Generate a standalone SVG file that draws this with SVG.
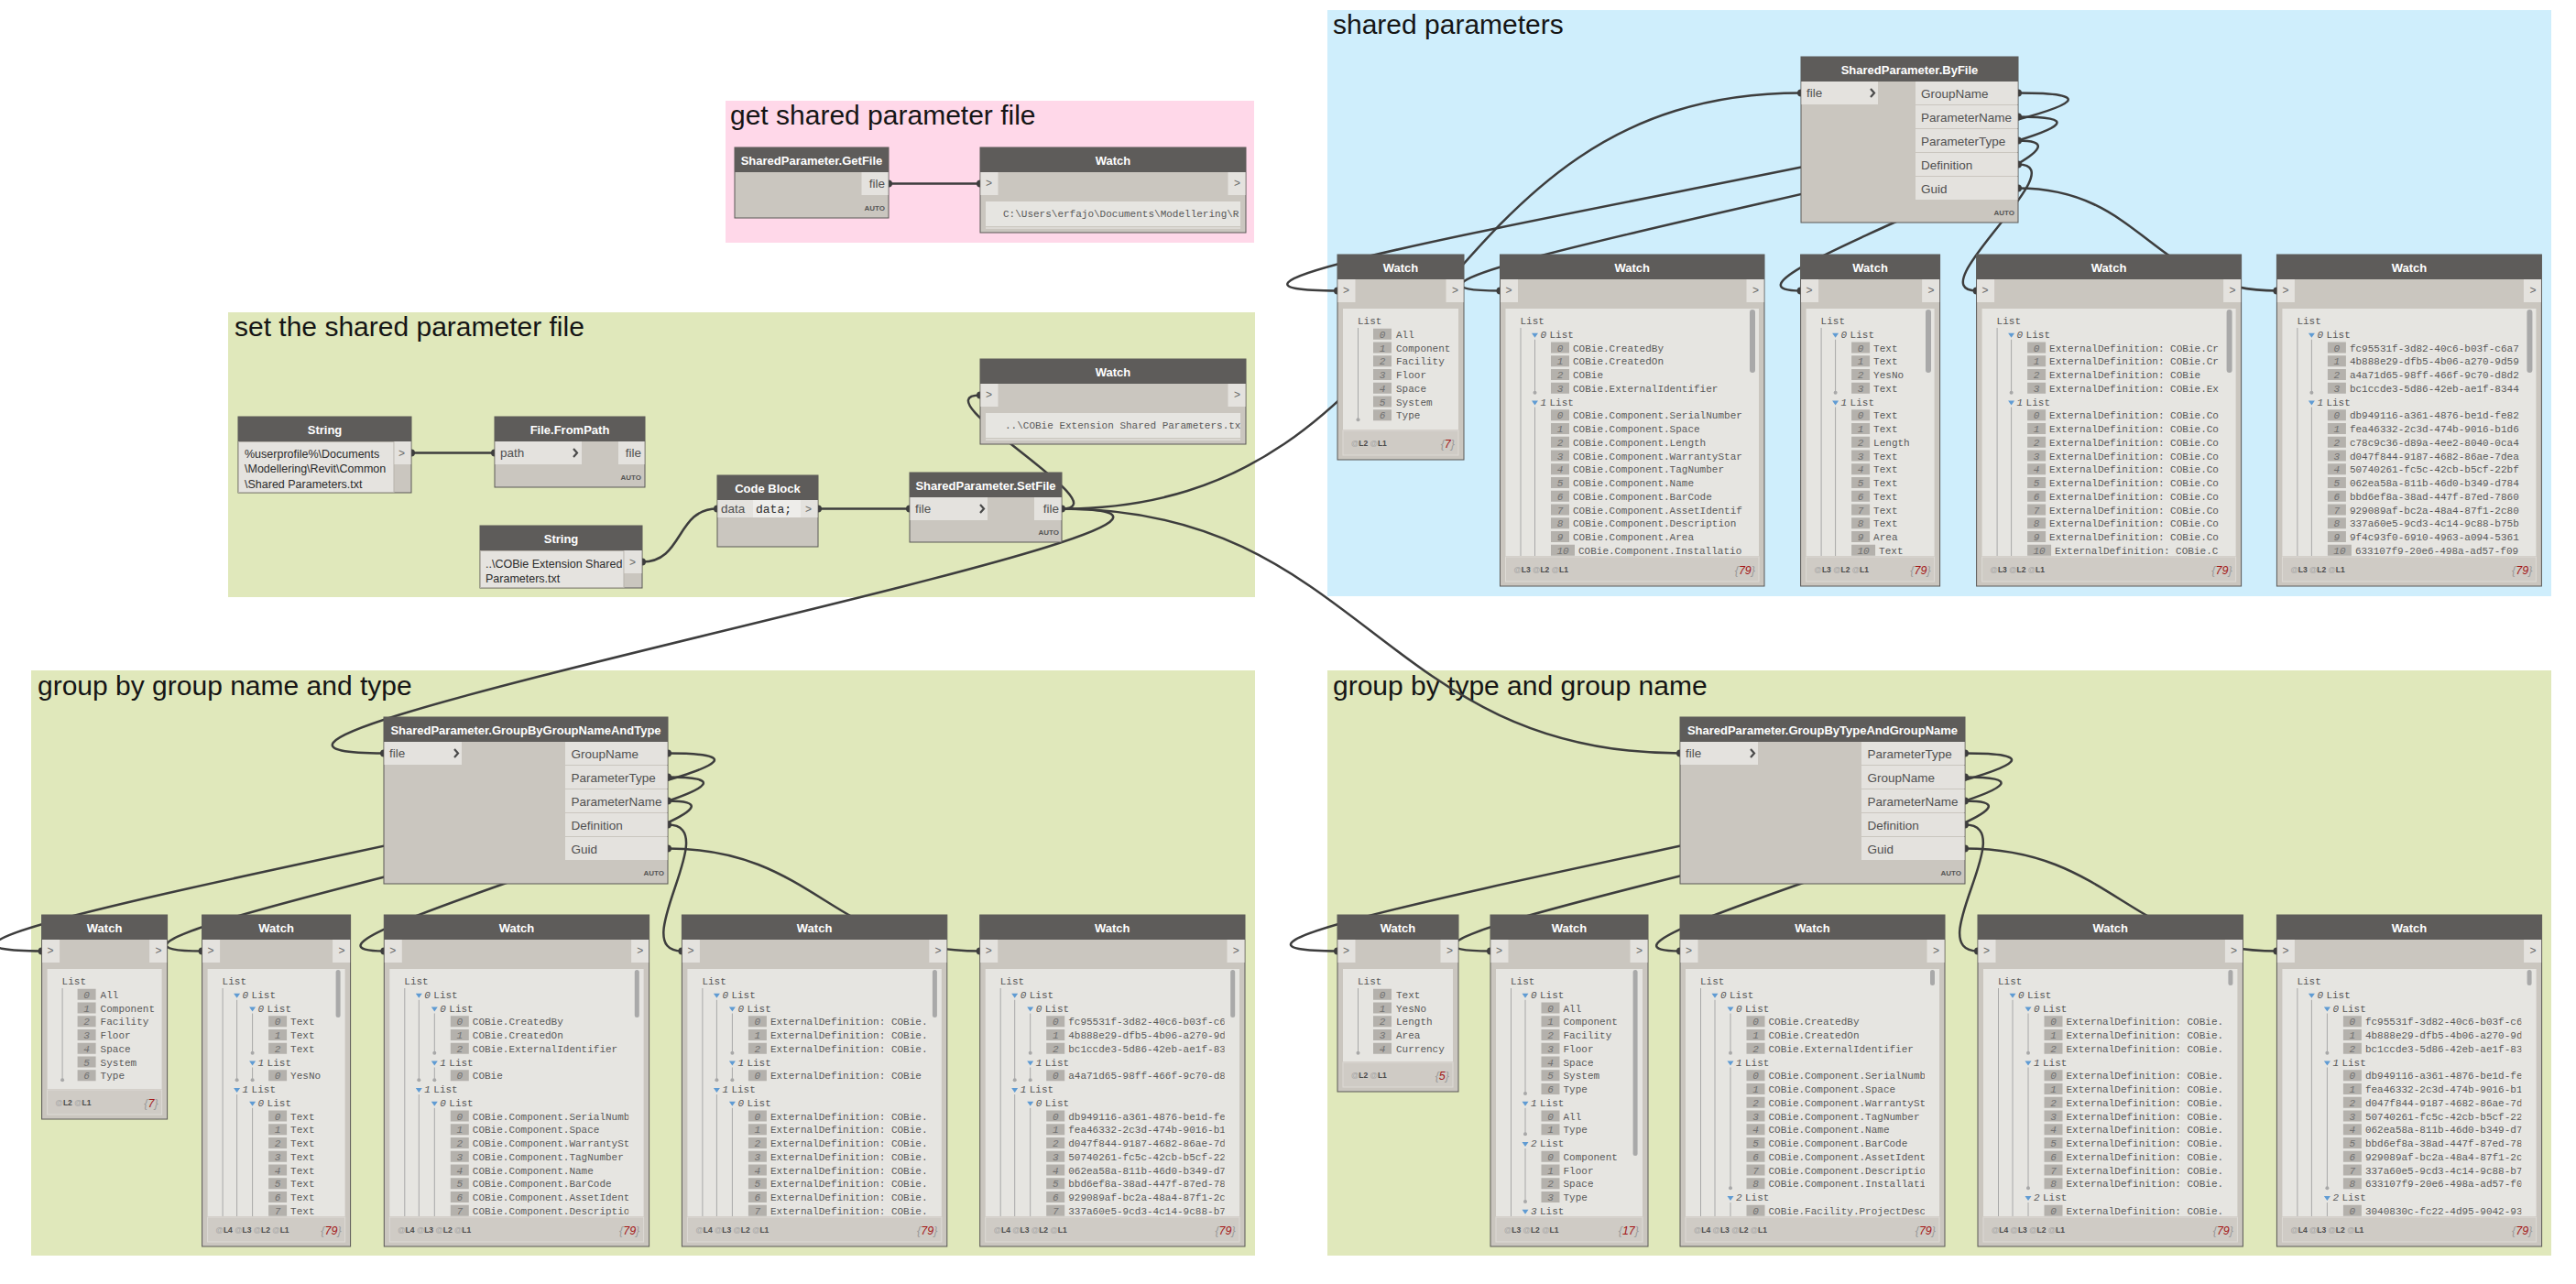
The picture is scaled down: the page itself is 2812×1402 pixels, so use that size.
<svg xmlns="http://www.w3.org/2000/svg" width="2812" height="1402" viewBox="0 0 2812 1402">
<defs>
<style>
.gt{font-family:"Liberation Sans",Arial,sans-serif;font-size:30px;fill:#151515}
.nb{fill:#CAC6BF;stroke:#5A5856;stroke-width:1}
.nh{fill:#5E5C5A}
.ht{font-family:"Liberation Sans",Arial,sans-serif;font-size:13px;font-weight:bold;fill:#FFFFFF;text-anchor:middle}
.pb{fill:#E4E2DE}
.pl{font-family:"Liberation Sans",Arial,sans-serif;font-size:13.5px;fill:#505050}
.pr{text-anchor:end}
.cv{fill:none;stroke:#4A4A4A;stroke-width:2.2}
.au{font-family:"Liberation Sans",Arial,sans-serif;font-size:8px;font-weight:bold;fill:#555555;text-anchor:end}
.pa{font-family:"Liberation Sans",Arial,sans-serif;font-size:12px;fill:#6A6A6A}
.wc{fill:#E6E5E1}
.m{font-family:"Liberation Mono","DejaVu Sans Mono",monospace;font-size:11px;fill:#585858}
.i{font-style:italic}
.ix{fill:#B4B1AC}
.it{font-family:"Liberation Mono","DejaVu Sans Mono",monospace;font-size:11px;font-style:italic;fill:#707070;text-anchor:middle}
.tl{fill:none;stroke:#A8A8A8;stroke-width:1}
.dt{fill:#A8A8A8}
.ar{fill:#5F9BD3}
.sb{fill:#A9A9A9}
.ft{fill:#CFCBC5;stroke:#DDDAD5;stroke-width:1}
.lv{font-family:"Liberation Sans",Arial,sans-serif;font-size:8.5px;font-weight:bold;fill:#4A4A4A}
.lv .a{fill:#A8A8A8}
.cn{font-family:"Liberation Sans",Arial,sans-serif;font-size:12.5px;font-style:italic;fill:#999999;text-anchor:end}
.cn .r{fill:#A31515}
.con{fill:none;stroke:#3D3D3D;stroke-width:2.5}
.cd{fill:#3D3D3D}
.st{font-family:"Liberation Sans",Arial,sans-serif;font-size:12.5px;fill:#2A2A2A}
.sa{fill:#E5E3DF;stroke:#B7B3AC;stroke-width:1}
.cb{font-family:"Liberation Mono","DejaVu Sans Mono",monospace;font-size:13px;fill:#2A2A2A}
.wl{fill:#DCD9D4}
</style>
<g id="sh-flat7"><path class="tl" d="M22.5,80V180.25"/><circle class="dt" cx="22.5" cy="180.25" r="2"/><path class="ix" d="M39,80.75h20v12h-20zM39,95.5h20v12h-20zM39,110.25h20v12h-20zM39,125h20v12h-20zM39,139.75h20v12h-20zM39,154.5h20v12h-20zM39,169.25h20v12h-20z"/></g>
<g id="sh-flat5"><path class="tl" d="M22.5,80V150.75"/><circle class="dt" cx="22.5" cy="150.75" r="2"/><path class="ix" d="M39,80.75h20v12h-20zM39,95.5h20v12h-20zM39,110.25h20v12h-20zM39,125h20v12h-20zM39,139.75h20v12h-20z"/></g>
<g id="sh-top"><path class="tl" d="M22.5,80V330M38,92.75V150.75M38,166.5V330"/><circle class="dt" cx="38" cy="150.75" r="2"/><path class="ar" d="M34.5,85.75h7l-3.5,5zM34.5,159.5h7l-3.5,5z"/><path class="ix" d="M55.5,95.5h20v12h-20zM55.5,110.25h20v12h-20zM55.5,125h20v12h-20zM55.5,139.75h20v12h-20zM55.5,169.25h20v12h-20zM55.5,184h20v12h-20zM55.5,198.75h20v12h-20zM55.5,213.5h20v12h-20zM55.5,228.25h20v12h-20zM55.5,243h20v12h-20zM55.5,257.75h20v12h-20zM55.5,272.5h20v12h-20zM55.5,287.25h20v12h-20zM55.5,302h20v12h-20zM55.5,316.75h26v12h-26z"/></g>
<g id="sh-d2a"><path class="tl" d="M22.5,80V330M38,92.75V180.25M55,107.5V150.75M55,166.5V180.25M38,196V330M55,210.75V330"/><circle class="dt" cx="38" cy="180.25" r="2"/><circle class="dt" cx="55" cy="150.75" r="2"/><circle class="dt" cx="55" cy="180.25" r="2"/><path class="ar" d="M34.5,85.75h7l-3.5,5zM34.5,189h7l-3.5,5zM51.5,100.5h7l-3.5,5zM51.5,159.5h7l-3.5,5zM51.5,203.75h7l-3.5,5z"/><path class="ix" d="M72.5,110.25h20v12h-20zM72.5,125h20v12h-20zM72.5,139.75h20v12h-20zM72.5,169.25h20v12h-20zM72.5,213.5h20v12h-20zM72.5,228.25h20v12h-20zM72.5,243h20v12h-20zM72.5,257.75h20v12h-20zM72.5,272.5h20v12h-20zM72.5,287.25h20v12h-20zM72.5,302h20v12h-20zM72.5,316.75h20v12h-20z"/></g>
<g id="sh-d2b"><path class="tl" d="M22.5,80V330M38,92.75V330M55,107.5V150.75M55,166.5V298.25M55,314V330"/><circle class="dt" cx="55" cy="150.75" r="2"/><circle class="dt" cx="55" cy="298.25" r="2"/><path class="ar" d="M34.5,85.75h7l-3.5,5zM51.5,100.5h7l-3.5,5zM51.5,159.5h7l-3.5,5zM51.5,307h7l-3.5,5z"/><path class="ix" d="M72.5,110.25h20v12h-20zM72.5,125h20v12h-20zM72.5,139.75h20v12h-20zM72.5,169.25h20v12h-20zM72.5,184h20v12h-20zM72.5,198.75h20v12h-20zM72.5,213.5h20v12h-20zM72.5,228.25h20v12h-20zM72.5,243h20v12h-20zM72.5,257.75h20v12h-20zM72.5,272.5h20v12h-20zM72.5,287.25h20v12h-20zM72.5,316.75h20v12h-20z"/></g>
</defs>

<rect width="2812" height="1402" fill="#FFFFFF"/>

<g id="groups">
<g id="group-get"><rect x="792" y="110" width="577" height="155" fill="#FFD8E9"/><text class="gt" x="797" y="136">get shared parameter file</text></g>
<g id="group-set"><rect x="249" y="341" width="1121" height="311" fill="#E0E8BB"/><text class="gt" x="256" y="367">set the shared parameter file</text></g>
<g id="group-shared"><rect x="1449" y="11" width="1336" height="640" fill="#CFEEFC"/><text class="gt" x="1455" y="37">shared parameters</text></g>
<g id="group-bygroupname"><rect x="34" y="732" width="1336" height="639" fill="#E0E8BB"/><text class="gt" x="41" y="759">group by group name and type</text></g>
<g id="group-bytype"><rect x="1449" y="732" width="1336" height="639" fill="#E0E8BB"/><text class="gt" x="1455" y="759">group by type and group name</text></g>
</g>

<g id="connectors">
<path class="con" d="M970,200.5H1070"/>
<path class="con" d="M449,494.5H540"/>
<path class="con" d="M701,613.5C746.6,613.5 737.4,555.5 783,555.5"/>
<path class="con" d="M893,555.5H993"/>
<path class="con" d="M1159,555.5C1227.5,555.5 1001.5,431.5 1070,431.5"/>
<path class="con" d="M1159,555.5C1575.4,555.5 1549.6,101.5 1966,101.5"/>
<path class="con" d="M1159,555.5C1513,555.5 65,822.5 419,822.5"/>
<path class="con" d="M1159,555.5C1485.7,555.5 1507.3,822.5 1834,822.5"/>
<path class="con" d="M2203,101.5C2551,101.5 1112,317.5 1460,317.5"/>
<path class="con" d="M2203,127.5C2471.3,127.5 1369.2,317.5 1637.5,317.5"/>
<path class="con" d="M2203,153.5C2332.7,153.5 1835.9,317.5 1965.6,317.5"/>
<path class="con" d="M2203,179.5C2268.3,179.5 2092.3,317.5 2157.6,317.5"/>
<path class="con" d="M2203,205.5C2339.8,205.5 2348.6,317.5 2485.4,317.5"/>
<path class="con" d="M729,822.5C1051.6,822.5 -277,1038.5 45.6,1038.5"/>
<path class="con" d="M729,848.5C973.3,848.5 -23.7,1038.5 220.6,1038.5"/>
<path class="con" d="M729,874.5C886.8,874.5 261.5,1038.5 419.3,1038.5"/>
<path class="con" d="M729,900.5C791.7,900.5 681.7,1038.5 744.4,1038.5"/>
<path class="con" d="M729,926.5C890.5,926.5 908.2,1038.5 1069.7,1038.5"/>
<path class="con" d="M2145,822.5C2468.3,822.5 1136.7,1038.5 1460,1038.5"/>
<path class="con" d="M2145,848.5C2393.4,848.5 1378.6,1038.5 1627,1038.5"/>
<path class="con" d="M2145,874.5C2303.3,874.5 1675.7,1038.5 1834,1038.5"/>
<path class="con" d="M2145,900.5C2207.6,900.5 2096.4,1038.5 2159,1038.5"/>
<path class="con" d="M2145,926.5C2306.3,926.5 2324.1,1038.5 2485.4,1038.5"/>
<g class="cd">
<circle cx="970" cy="200.5" r="4"/><circle cx="1070" cy="200.5" r="4"/>
<circle cx="449" cy="494.5" r="4"/><circle cx="540" cy="494.5" r="4"/>
<circle cx="701" cy="613.5" r="4"/><circle cx="783" cy="555.5" r="4"/>
<circle cx="893" cy="555.5" r="4"/><circle cx="993" cy="555.5" r="4"/>
<circle cx="1159" cy="555.5" r="4"/><circle cx="1070" cy="431.5" r="4"/>
<circle cx="1966" cy="101.5" r="4"/><circle cx="419" cy="822.5" r="4"/><circle cx="1834" cy="822.5" r="4"/>
<circle cx="2203" cy="101.5" r="4"/><circle cx="2203" cy="127.5" r="4"/><circle cx="2203" cy="153.5" r="4"/><circle cx="2203" cy="179.5" r="4"/><circle cx="2203" cy="205.5" r="4"/>
<circle cx="1460" cy="317.5" r="4"/><circle cx="1637.5" cy="317.5" r="4"/><circle cx="1965.6" cy="317.5" r="4"/><circle cx="2157.6" cy="317.5" r="4"/><circle cx="2485.4" cy="317.5" r="4"/>
<circle cx="729" cy="822.5" r="4"/><circle cx="729" cy="848.5" r="4"/><circle cx="729" cy="874.5" r="4"/><circle cx="729" cy="900.5" r="4"/><circle cx="729" cy="926.5" r="4"/>
<circle cx="45.6" cy="1038.5" r="4"/><circle cx="220.6" cy="1038.5" r="4"/><circle cx="419.3" cy="1038.5" r="4"/><circle cx="744.4" cy="1038.5" r="4"/><circle cx="1069.7" cy="1038.5" r="4"/>
<circle cx="2145" cy="822.5" r="4"/><circle cx="2145" cy="848.5" r="4"/><circle cx="2145" cy="874.5" r="4"/><circle cx="2145" cy="900.5" r="4"/><circle cx="2145" cy="926.5" r="4"/>
<circle cx="1460" cy="1038.5" r="4"/><circle cx="1627" cy="1038.5" r="4"/><circle cx="1834" cy="1038.5" r="4"/><circle cx="2159" cy="1038.5" r="4"/><circle cx="2485.4" cy="1038.5" r="4"/>
</g>
</g>

<g id="nodes">

<g id="n-getfile" transform="translate(802,161)">
<rect class="nb" width="168" height="77"/><rect class="nh" width="168" height="27"/>
<text class="ht" x="84" y="18.5">SharedParameter.GetFile</text>
<rect class="pb" x="138.5" y="27" width="29" height="25"/>
<text class="pl pr" x="164" y="44">file</text>
<text class="au" x="164" y="69">AUTO</text>
</g>

<g id="n-watch-getfile" transform="translate(1070,161)">
<rect class="nb" width="290" height="93"/><rect class="nh" width="290" height="27"/>
<text class="ht" x="145" y="18.5">Watch</text>
<rect class="pb" x="0.5" y="27" width="19" height="25"/><rect class="pb" x="270.5" y="27" width="19" height="25"/>
<text class="pa" x="6" y="43">&gt;</text><text class="pa" x="277" y="43">&gt;</text>
<rect class="wc" x="6" y="59" width="278" height="27"/><rect class="wl" x="6" y="87" width="278" height="2"/>
<svg x="6" y="59" width="278" height="27" viewBox="6 59 278 27"><text class="m" x="25" y="76">C:\Users\erfajo\Documents\Modellering\R</text></svg>
</g>

<g id="n-string-userprofile" transform="translate(260,455)">
<rect class="nb" width="189" height="83"/><rect class="nh" width="189" height="27"/>
<text class="ht" x="94.5" y="18.5">String</text>
<rect class="sa" x="0.5" y="27.5" width="169.5" height="55"/>
<rect class="pb" x="170.5" y="27" width="18" height="25"/>
<text class="pa" x="175" y="44">&gt;</text>
<text class="st" x="7" y="44.5">%userprofile%\Documents</text>
<text class="st" x="7" y="61">\Modellering\Revit\Common</text>
<text class="st" x="7" y="77.5">\Shared Parameters.txt</text>
</g>

<g id="n-file-frompath" transform="translate(540,455)">
<rect class="nb" width="164" height="77"/><rect class="nh" width="164" height="27"/>
<text class="ht" x="82" y="18.5">File.FromPath</text>
<rect class="pb" x="0.5" y="27" width="94.5" height="25"/>
<text class="pl" x="6" y="44">path</text>
<path class="cv" d="M86,35l4,4.5l-4,4.5"/>
<rect class="pb" x="135" y="27" width="28.5" height="25"/>
<text class="pl pr" x="160" y="44">file</text>
<text class="au" x="160" y="69">AUTO</text>
</g>

<g id="n-string-relative" transform="translate(524,574)">
<rect class="nb" width="177" height="68"/><rect class="nh" width="177" height="27"/>
<text class="ht" x="88.5" y="18.5">String</text>
<rect class="sa" x="0.5" y="27.5" width="156.5" height="40"/>
<rect class="pb" x="157.5" y="27" width="19" height="25"/>
<text class="pa" x="163" y="44">&gt;</text>
<text class="st" x="6" y="46">..\COBie Extension Shared</text>
<text class="st" x="6" y="62">Parameters.txt</text>
</g>

<g id="n-codeblock" transform="translate(783,519)">
<rect class="nb" width="110" height="78"/><rect class="nh" width="110" height="27"/>
<text class="ht" x="55" y="18.5">Code Block</text>
<rect class="pb" x="0.5" y="27" width="38.5" height="19"/>
<text class="pl" x="4" y="41">data</text>
<rect fill="#EEEDEA" x="39" y="27" width="52" height="19"/>
<text class="cb" x="42" y="41">data;</text>
<rect class="pb" x="91" y="27" width="18.5" height="19"/>
<text class="pa" x="96" y="41">&gt;</text>
</g>

<g id="n-setfile" transform="translate(993,516)">
<rect class="nb" width="166" height="76"/><rect class="nh" width="166" height="27"/>
<text class="ht" x="83" y="18.5">SharedParameter.SetFile</text>
<rect class="pb" x="0.5" y="27" width="84.5" height="25"/>
<text class="pl" x="6" y="44">file</text>
<path class="cv" d="M77,35l4,4.5l-4,4.5"/>
<rect class="pb" x="136" y="27" width="29.5" height="25"/>
<text class="pl pr" x="163" y="44">file</text>
<text class="au" x="163" y="68">AUTO</text>
</g>

<g id="n-watch-setfile" transform="translate(1070,392)">
<rect class="nb" width="290" height="93"/><rect class="nh" width="290" height="27"/>
<text class="ht" x="145" y="18.5">Watch</text>
<rect class="pb" x="0.5" y="27" width="19" height="25"/><rect class="pb" x="270.5" y="27" width="19" height="25"/>
<text class="pa" x="6" y="43">&gt;</text><text class="pa" x="277" y="43">&gt;</text>
<rect class="wc" x="6" y="59" width="278" height="27"/><rect class="wl" x="6" y="87" width="278" height="2"/>
<svg x="6" y="59" width="278" height="27" viewBox="6 59 278 27"><text class="m" x="27" y="76">..\COBie Extension Shared Parameters.tx</text></svg>
</g>

<g id="n-byfile" transform="translate(1966,62)">
<rect class="nb" width="237" height="181"/><rect class="nh" width="237" height="27"/>
<text class="ht" x="118.5" y="18.5">SharedParameter.ByFile</text>
<rect class="pb" x="0.5" y="27" width="83.5" height="25"/>
<text class="pl" x="6" y="44">file</text>
<path class="cv" d="M76,35l4,4.5l-4,4.5"/>
<path class="pb" d="M125,27h111.5v25h-111.5zM125,53h111.5v25h-111.5zM125,79h111.5v25h-111.5zM125,105h111.5v25h-111.5zM125,131h111.5v25h-111.5z"/>
<text class="pl" x="131" y="44.5">GroupName</text>
<text class="pl" x="131" y="70.5">ParameterName</text>
<text class="pl" x="131" y="96.5">ParameterType</text>
<text class="pl" x="131" y="122.5">Definition</text>
<text class="pl" x="131" y="148.5">Guid</text>
<text class="au" x="233" y="173">AUTO</text>
</g>

<g id="n-watch-groupname" transform="translate(1460,278)">
<rect class="nb" width="138" height="224"/><rect class="nh" width="138" height="27"/>
<text class="ht" x="69" y="18.5">Watch</text>
<rect class="pb" x="0.5" y="27" width="19" height="25"/><rect class="pb" x="118.5" y="27" width="19" height="25"/>
<text class="pa" x="6" y="43">&gt;</text><text class="pa" x="125" y="43">&gt;</text>
<rect class="wc" x="6" y="59" width="126" height="132"/>
<svg x="6" y="59" width="126" height="132" viewBox="6 59 126 132">
<use href="#sh-flat7"/>
<text class="m" x="22" y="76">List</text>
<text class="it"><tspan x="49" y="90.75">0</tspan><tspan x="49" y="105.5">1</tspan><tspan x="49" y="120.25">2</tspan><tspan x="49" y="135">3</tspan><tspan x="49" y="149.75">4</tspan><tspan x="49" y="164.5">5</tspan><tspan x="49" y="179.25">6</tspan></text>
<text class="m"><tspan x="64" y="90.75">All</tspan><tspan x="64" y="105.5">Component</tspan><tspan x="64" y="120.25">Facility</tspan><tspan x="64" y="135">Floor</tspan><tspan x="64" y="149.75">Space</tspan><tspan x="64" y="164.5">System</tspan><tspan x="64" y="179.25">Type</tspan></text>
</svg>
<rect class="ft" x="6" y="192" width="126" height="27"/>
<text class="lv" x="15" y="209"><tspan class="a">@</tspan>L2 <tspan class="a">@</tspan>L1</text>
<text class="cn" x="128" y="211">{<tspan class="r">7</tspan>}</text>
</g>

<g id="n-watch-parametername" transform="translate(1637.5,278)">
<rect class="nb" width="288.5" height="362"/><rect class="nh" width="288.5" height="27"/>
<text class="ht" x="144.25" y="18.5">Watch</text>
<rect class="pb" x="0.5" y="27" width="19" height="25"/><rect class="pb" x="269" y="27" width="19" height="25"/>
<text class="pa" x="6" y="43">&gt;</text><text class="pa" x="275.5" y="43">&gt;</text>
<rect class="wc" x="6" y="59" width="276.5" height="270"/>
<svg x="6" y="59" width="259.5" height="270" viewBox="6 59 259.5 270">
<use href="#sh-top"/>
<text class="m" x="22" y="76">List</text>
<text class="m" y="90.75"><tspan class="i" x="44">0</tspan><tspan x="54">List</tspan></text>
<text class="m" y="164.5"><tspan class="i" x="44">1</tspan><tspan x="54">List</tspan></text>
<text class="it"><tspan x="65.5" y="105.5">0</tspan><tspan x="65.5" y="120.25">1</tspan><tspan x="65.5" y="135">2</tspan><tspan x="65.5" y="149.75">3</tspan><tspan x="65.5" y="179.25">0</tspan><tspan x="65.5" y="194">1</tspan><tspan x="65.5" y="208.75">2</tspan><tspan x="65.5" y="223.5">3</tspan><tspan x="65.5" y="238.25">4</tspan><tspan x="65.5" y="253">5</tspan><tspan x="65.5" y="267.75">6</tspan><tspan x="65.5" y="282.5">7</tspan><tspan x="65.5" y="297.25">8</tspan><tspan x="65.5" y="312">9</tspan><tspan x="68.5" y="326.75">10</tspan></text>
<text class="m"><tspan x="79.5" y="105.5">COBie.CreatedBy</tspan><tspan x="79.5" y="120.25">COBie.CreatedOn</tspan><tspan x="79.5" y="135">COBie</tspan><tspan x="79.5" y="149.75">COBie.ExternalIdentifier</tspan><tspan x="79.5" y="179.25">COBie.Component.SerialNumber</tspan><tspan x="79.5" y="194">COBie.Component.Space</tspan><tspan x="79.5" y="208.75">COBie.Component.Length</tspan><tspan x="79.5" y="223.5">COBie.Component.WarrantyStar</tspan><tspan x="79.5" y="238.25">COBie.Component.TagNumber</tspan><tspan x="79.5" y="253">COBie.Component.Name</tspan><tspan x="79.5" y="267.75">COBie.Component.BarCode</tspan><tspan x="79.5" y="282.5">COBie.Component.AssetIdentif</tspan><tspan x="79.5" y="297.25">COBie.Component.Description</tspan><tspan x="79.5" y="312">COBie.Component.Area</tspan><tspan x="85.5" y="326.75">COBie.Component.Installatio</tspan></text>
</svg>
<rect class="sb" x="272.5" y="60" width="6" height="69" rx="3"/>
<rect class="ft" x="6" y="330" width="276.5" height="27"/>
<text class="lv" x="15" y="347"><tspan class="a">@</tspan>L3 <tspan class="a">@</tspan>L2 <tspan class="a">@</tspan>L1</text>
<text class="cn" x="278.5" y="349">{<tspan class="r">79</tspan>}</text>
</g>

<g id="n-watch-parametertype" transform="translate(1965.6,278)">
<rect class="nb" width="152" height="362"/><rect class="nh" width="152" height="27"/>
<text class="ht" x="76" y="18.5">Watch</text>
<rect class="pb" x="0.5" y="27" width="19" height="25"/><rect class="pb" x="132.5" y="27" width="19" height="25"/>
<text class="pa" x="6" y="43">&gt;</text><text class="pa" x="139" y="43">&gt;</text>
<rect class="wc" x="6" y="59" width="140" height="270"/>
<svg x="6" y="59" width="125" height="270" viewBox="6 59 125 270">
<use href="#sh-top"/>
<text class="m" x="22" y="76">List</text>
<text class="m" y="90.75"><tspan class="i" x="44">0</tspan><tspan x="54">List</tspan></text>
<text class="m" y="164.5"><tspan class="i" x="44">1</tspan><tspan x="54">List</tspan></text>
<text class="it"><tspan x="65.5" y="105.5">0</tspan><tspan x="65.5" y="120.25">1</tspan><tspan x="65.5" y="135">2</tspan><tspan x="65.5" y="149.75">3</tspan><tspan x="65.5" y="179.25">0</tspan><tspan x="65.5" y="194">1</tspan><tspan x="65.5" y="208.75">2</tspan><tspan x="65.5" y="223.5">3</tspan><tspan x="65.5" y="238.25">4</tspan><tspan x="65.5" y="253">5</tspan><tspan x="65.5" y="267.75">6</tspan><tspan x="65.5" y="282.5">7</tspan><tspan x="65.5" y="297.25">8</tspan><tspan x="65.5" y="312">9</tspan><tspan x="68.5" y="326.75">10</tspan></text>
<text class="m"><tspan x="79.5" y="105.5">Text</tspan><tspan x="79.5" y="120.25">Text</tspan><tspan x="79.5" y="135">YesNo</tspan><tspan x="79.5" y="149.75">Text</tspan><tspan x="79.5" y="179.25">Text</tspan><tspan x="79.5" y="194">Text</tspan><tspan x="79.5" y="208.75">Length</tspan><tspan x="79.5" y="223.5">Text</tspan><tspan x="79.5" y="238.25">Text</tspan><tspan x="79.5" y="253">Text</tspan><tspan x="79.5" y="267.75">Text</tspan><tspan x="79.5" y="282.5">Text</tspan><tspan x="79.5" y="297.25">Text</tspan><tspan x="79.5" y="312">Area</tspan><tspan x="85.5" y="326.75">Text</tspan></text>
</svg>
<rect class="sb" x="136.4" y="60" width="6" height="69" rx="3"/>
<rect class="ft" x="6" y="330" width="140" height="27"/>
<text class="lv" x="15" y="347"><tspan class="a">@</tspan>L3 <tspan class="a">@</tspan>L2 <tspan class="a">@</tspan>L1</text>
<text class="cn" x="142" y="349">{<tspan class="r">79</tspan>}</text>
</g>

<g id="n-watch-definition" transform="translate(2157.6,278)">
<rect class="nb" width="289" height="362"/><rect class="nh" width="289" height="27"/>
<text class="ht" x="144.5" y="18.5">Watch</text>
<rect class="pb" x="0.5" y="27" width="19" height="25"/><rect class="pb" x="269.5" y="27" width="19" height="25"/>
<text class="pa" x="6" y="43">&gt;</text><text class="pa" x="276" y="43">&gt;</text>
<rect class="wc" x="6" y="59" width="277" height="270"/>
<svg x="6" y="59" width="260" height="270" viewBox="6 59 260 270">
<use href="#sh-top"/>
<text class="m" x="22" y="76">List</text>
<text class="m" y="90.75"><tspan class="i" x="44">0</tspan><tspan x="54">List</tspan></text>
<text class="m" y="164.5"><tspan class="i" x="44">1</tspan><tspan x="54">List</tspan></text>
<text class="it"><tspan x="65.5" y="105.5">0</tspan><tspan x="65.5" y="120.25">1</tspan><tspan x="65.5" y="135">2</tspan><tspan x="65.5" y="149.75">3</tspan><tspan x="65.5" y="179.25">0</tspan><tspan x="65.5" y="194">1</tspan><tspan x="65.5" y="208.75">2</tspan><tspan x="65.5" y="223.5">3</tspan><tspan x="65.5" y="238.25">4</tspan><tspan x="65.5" y="253">5</tspan><tspan x="65.5" y="267.75">6</tspan><tspan x="65.5" y="282.5">7</tspan><tspan x="65.5" y="297.25">8</tspan><tspan x="65.5" y="312">9</tspan><tspan x="68.5" y="326.75">10</tspan></text>
<text class="m"><tspan x="79.5" y="105.5">ExternalDefinition: COBie.Cr</tspan><tspan x="79.5" y="120.25">ExternalDefinition: COBie.Cr</tspan><tspan x="79.5" y="135">ExternalDefinition: COBie</tspan><tspan x="79.5" y="149.75">ExternalDefinition: COBie.Ex</tspan><tspan x="79.5" y="179.25">ExternalDefinition: COBie.Co</tspan><tspan x="79.5" y="194">ExternalDefinition: COBie.Co</tspan><tspan x="79.5" y="208.75">ExternalDefinition: COBie.Co</tspan><tspan x="79.5" y="223.5">ExternalDefinition: COBie.Co</tspan><tspan x="79.5" y="238.25">ExternalDefinition: COBie.Co</tspan><tspan x="79.5" y="253">ExternalDefinition: COBie.Co</tspan><tspan x="79.5" y="267.75">ExternalDefinition: COBie.Co</tspan><tspan x="79.5" y="282.5">ExternalDefinition: COBie.Co</tspan><tspan x="79.5" y="297.25">ExternalDefinition: COBie.Co</tspan><tspan x="79.5" y="312">ExternalDefinition: COBie.Co</tspan><tspan x="85.5" y="326.75">ExternalDefinition: COBie.C</tspan></text>
</svg>
<rect class="sb" x="273" y="60" width="6" height="69" rx="3"/>
<rect class="ft" x="6" y="330" width="277" height="27"/>
<text class="lv" x="15" y="347"><tspan class="a">@</tspan>L3 <tspan class="a">@</tspan>L2 <tspan class="a">@</tspan>L1</text>
<text class="cn" x="279" y="349">{<tspan class="r">79</tspan>}</text>
</g>

<g id="n-watch-guid" transform="translate(2485.4,278)">
<rect class="nb" width="289" height="362"/><rect class="nh" width="289" height="27"/>
<text class="ht" x="144.5" y="18.5">Watch</text>
<rect class="pb" x="0.5" y="27" width="19" height="25"/><rect class="pb" x="269.5" y="27" width="19" height="25"/>
<text class="pa" x="6" y="43">&gt;</text><text class="pa" x="276" y="43">&gt;</text>
<rect class="wc" x="6" y="59" width="277" height="270"/>
<svg x="6" y="59" width="260" height="270" viewBox="6 59 260 270">
<use href="#sh-top"/>
<text class="m" x="22" y="76">List</text>
<text class="m" y="90.75"><tspan class="i" x="44">0</tspan><tspan x="54">List</tspan></text>
<text class="m" y="164.5"><tspan class="i" x="44">1</tspan><tspan x="54">List</tspan></text>
<text class="it"><tspan x="65.5" y="105.5">0</tspan><tspan x="65.5" y="120.25">1</tspan><tspan x="65.5" y="135">2</tspan><tspan x="65.5" y="149.75">3</tspan><tspan x="65.5" y="179.25">0</tspan><tspan x="65.5" y="194">1</tspan><tspan x="65.5" y="208.75">2</tspan><tspan x="65.5" y="223.5">3</tspan><tspan x="65.5" y="238.25">4</tspan><tspan x="65.5" y="253">5</tspan><tspan x="65.5" y="267.75">6</tspan><tspan x="65.5" y="282.5">7</tspan><tspan x="65.5" y="297.25">8</tspan><tspan x="65.5" y="312">9</tspan><tspan x="68.5" y="326.75">10</tspan></text>
<text class="m"><tspan x="79.5" y="105.5">fc95531f-3d82-40c6-b03f-c6a7</tspan><tspan x="79.5" y="120.25">4b888e29-dfb5-4b06-a270-9d59</tspan><tspan x="79.5" y="135">a4a71d65-98ff-466f-9c70-d8d2</tspan><tspan x="79.5" y="149.75">bc1ccde3-5d86-42eb-ae1f-8344</tspan><tspan x="79.5" y="179.25">db949116-a361-4876-be1d-fe82</tspan><tspan x="79.5" y="194">fea46332-2c3d-474b-9016-b1d6</tspan><tspan x="79.5" y="208.75">c78c9c36-d89a-4ee2-8040-0ca4</tspan><tspan x="79.5" y="223.5">d047f844-9187-4682-86ae-7dea</tspan><tspan x="79.5" y="238.25">50740261-fc5c-42cb-b5cf-22bf</tspan><tspan x="79.5" y="253">062ea58a-811b-46d0-b349-d784</tspan><tspan x="79.5" y="267.75">bbd6ef8a-38ad-447f-87ed-7860</tspan><tspan x="79.5" y="282.5">929089af-bc2a-48a4-87f1-2c80</tspan><tspan x="79.5" y="297.25">337a60e5-9cd3-4c14-9c88-b75b</tspan><tspan x="79.5" y="312">9f4c93f0-6910-4963-a094-5361</tspan><tspan x="85.5" y="326.75">633107f9-20e6-498a-ad57-f09</tspan></text>
</svg>
<rect class="sb" x="273" y="60" width="6" height="69" rx="3"/>
<rect class="ft" x="6" y="330" width="277" height="27"/>
<text class="lv" x="15" y="347"><tspan class="a">@</tspan>L3 <tspan class="a">@</tspan>L2 <tspan class="a">@</tspan>L1</text>
<text class="cn" x="279" y="349">{<tspan class="r">79</tspan>}</text>
</g>

<g id="n-groupbygroupnameandtype" transform="translate(419,783)">
<rect class="nb" width="310" height="182"/><rect class="nh" width="310" height="27"/>
<text class="ht" x="155" y="18.5">SharedParameter.GroupByGroupNameAndType</text>
<rect class="pb" x="0.5" y="27" width="84.5" height="25"/>
<text class="pl" x="6" y="44">file</text>
<path class="cv" d="M77,35l4,4.5l-4,4.5"/>
<path class="pb" d="M198,27h111.5v25h-111.5zM198,53h111.5v25h-111.5zM198,79h111.5v25h-111.5zM198,105h111.5v25h-111.5zM198,131h111.5v25h-111.5z"/>
<text class="pl" x="204.5" y="44.5">GroupName</text>
<text class="pl" x="204.5" y="70.5">ParameterType</text>
<text class="pl" x="204.5" y="96.5">ParameterName</text>
<text class="pl" x="204.5" y="122.5">Definition</text>
<text class="pl" x="204.5" y="148.5">Guid</text>
<text class="au" x="306" y="173">AUTO</text>
</g>

<g id="n-watch-bg-groupname" transform="translate(45.6,999)">
<rect class="nb" width="137" height="223"/><rect class="nh" width="137" height="27"/>
<text class="ht" x="68.5" y="18.5">Watch</text>
<rect class="pb" x="0.5" y="27" width="19" height="25"/><rect class="pb" x="117.5" y="27" width="19" height="25"/>
<text class="pa" x="6" y="43">&gt;</text><text class="pa" x="124" y="43">&gt;</text>
<rect class="wc" x="6" y="59" width="125" height="131"/>
<svg x="6" y="59" width="125" height="131" viewBox="6 59 125 131">
<use href="#sh-flat7"/>
<text class="m" x="22" y="76">List</text>
<text class="it"><tspan x="49" y="90.75">0</tspan><tspan x="49" y="105.5">1</tspan><tspan x="49" y="120.25">2</tspan><tspan x="49" y="135">3</tspan><tspan x="49" y="149.75">4</tspan><tspan x="49" y="164.5">5</tspan><tspan x="49" y="179.25">6</tspan></text>
<text class="m"><tspan x="64" y="90.75">All</tspan><tspan x="64" y="105.5">Component</tspan><tspan x="64" y="120.25">Facility</tspan><tspan x="64" y="135">Floor</tspan><tspan x="64" y="149.75">Space</tspan><tspan x="64" y="164.5">System</tspan><tspan x="64" y="179.25">Type</tspan></text>
</svg>
<rect class="ft" x="6" y="191" width="125" height="27"/>
<text class="lv" x="15" y="208"><tspan class="a">@</tspan>L2 <tspan class="a">@</tspan>L1</text>
<text class="cn" x="127" y="210">{<tspan class="r">7</tspan>}</text>
</g>

<g id="n-watch-bg-parametertype" transform="translate(220.6,999)">
<rect class="nb" width="162" height="362"/><rect class="nh" width="162" height="27"/>
<text class="ht" x="81" y="18.5">Watch</text>
<rect class="pb" x="0.5" y="27" width="19" height="25"/><rect class="pb" x="142.5" y="27" width="19" height="25"/>
<text class="pa" x="6" y="43">&gt;</text><text class="pa" x="149" y="43">&gt;</text>
<rect class="wc" x="6" y="59" width="150" height="270"/>
<svg x="6" y="59" width="135" height="270" viewBox="6 59 135 270">
<use href="#sh-d2a"/>
<text class="m" x="22" y="76">List</text>
<text class="m" y="90.75"><tspan class="i" x="44">0</tspan><tspan x="54">List</tspan></text>
<text class="m" y="105.5"><tspan class="i" x="61">0</tspan><tspan x="71">List</tspan></text>
<text class="m" y="164.5"><tspan class="i" x="61">1</tspan><tspan x="71">List</tspan></text>
<text class="m" y="194"><tspan class="i" x="44">1</tspan><tspan x="54">List</tspan></text>
<text class="m" y="208.75"><tspan class="i" x="61">0</tspan><tspan x="71">List</tspan></text>
<text class="it"><tspan x="82.5" y="120.25">0</tspan><tspan x="82.5" y="135">1</tspan><tspan x="82.5" y="149.75">2</tspan><tspan x="82.5" y="179.25">0</tspan><tspan x="82.5" y="223.5">0</tspan><tspan x="82.5" y="238.25">1</tspan><tspan x="82.5" y="253">2</tspan><tspan x="82.5" y="267.75">3</tspan><tspan x="82.5" y="282.5">4</tspan><tspan x="82.5" y="297.25">5</tspan><tspan x="82.5" y="312">6</tspan><tspan x="82.5" y="326.75">7</tspan></text>
<text class="m"><tspan x="96.5" y="120.25">Text</tspan><tspan x="96.5" y="135">Text</tspan><tspan x="96.5" y="149.75">Text</tspan><tspan x="96.5" y="179.25">YesNo</tspan><tspan x="96.5" y="223.5">Text</tspan><tspan x="96.5" y="238.25">Text</tspan><tspan x="96.5" y="253">Text</tspan><tspan x="96.5" y="267.75">Text</tspan><tspan x="96.5" y="282.5">Text</tspan><tspan x="96.5" y="297.25">Text</tspan><tspan x="96.5" y="312">Text</tspan><tspan x="96.5" y="326.75">Text</tspan></text>
</svg>
<rect class="sb" x="146" y="60" width="5" height="52" rx="2.5"/>
<rect class="ft" x="6" y="330" width="150" height="27"/>
<text class="lv" x="15" y="347"><tspan class="a">@</tspan>L4 <tspan class="a">@</tspan>L3 <tspan class="a">@</tspan>L2 <tspan class="a">@</tspan>L1</text>
<text class="cn" x="152" y="349">{<tspan class="r">79</tspan>}</text>
</g>

<g id="n-watch-bg-parametername" transform="translate(419.3,999)">
<rect class="nb" width="289.3" height="362"/><rect class="nh" width="289.3" height="27"/>
<text class="ht" x="144.6" y="18.5">Watch</text>
<rect class="pb" x="0.5" y="27" width="19" height="25"/><rect class="pb" x="269.8" y="27" width="19" height="25"/>
<text class="pa" x="6" y="43">&gt;</text><text class="pa" x="276" y="43">&gt;</text>
<rect class="wc" x="6" y="59" width="277.3" height="270"/>
<svg x="6" y="59" width="261" height="270" viewBox="6 59 261 270">
<use href="#sh-d2a"/>
<text class="m" x="22" y="76">List</text>
<text class="m" y="90.75"><tspan class="i" x="44">0</tspan><tspan x="54">List</tspan></text>
<text class="m" y="105.5"><tspan class="i" x="61">0</tspan><tspan x="71">List</tspan></text>
<text class="m" y="164.5"><tspan class="i" x="61">1</tspan><tspan x="71">List</tspan></text>
<text class="m" y="194"><tspan class="i" x="44">1</tspan><tspan x="54">List</tspan></text>
<text class="m" y="208.75"><tspan class="i" x="61">0</tspan><tspan x="71">List</tspan></text>
<text class="it"><tspan x="82.5" y="120.25">0</tspan><tspan x="82.5" y="135">1</tspan><tspan x="82.5" y="149.75">2</tspan><tspan x="82.5" y="179.25">0</tspan><tspan x="82.5" y="223.5">0</tspan><tspan x="82.5" y="238.25">1</tspan><tspan x="82.5" y="253">2</tspan><tspan x="82.5" y="267.75">3</tspan><tspan x="82.5" y="282.5">4</tspan><tspan x="82.5" y="297.25">5</tspan><tspan x="82.5" y="312">6</tspan><tspan x="82.5" y="326.75">7</tspan></text>
<text class="m"><tspan x="96.5" y="120.25">COBie.CreatedBy</tspan><tspan x="96.5" y="135">COBie.CreatedOn</tspan><tspan x="96.5" y="149.75">COBie.ExternalIdentifier</tspan><tspan x="96.5" y="179.25">COBie</tspan><tspan x="96.5" y="223.5">COBie.Component.SerialNumb</tspan><tspan x="96.5" y="238.25">COBie.Component.Space</tspan><tspan x="96.5" y="253">COBie.Component.WarrantySt</tspan><tspan x="96.5" y="267.75">COBie.Component.TagNumber</tspan><tspan x="96.5" y="282.5">COBie.Component.Name</tspan><tspan x="96.5" y="297.25">COBie.Component.BarCode</tspan><tspan x="96.5" y="312">COBie.Component.AssetIdent</tspan><tspan x="96.5" y="326.75">COBie.Component.Descriptio</tspan></text>
</svg>
<rect class="sb" x="273.5" y="60" width="5" height="52" rx="2.5"/>
<rect class="ft" x="6" y="330" width="277.3" height="27"/>
<text class="lv" x="15" y="347"><tspan class="a">@</tspan>L4 <tspan class="a">@</tspan>L3 <tspan class="a">@</tspan>L2 <tspan class="a">@</tspan>L1</text>
<text class="cn" x="279" y="349">{<tspan class="r">79</tspan>}</text>
</g>

<g id="n-watch-bg-definition" transform="translate(744.4,999)">
<rect class="nb" width="289.4" height="362"/><rect class="nh" width="289.4" height="27"/>
<text class="ht" x="144.7" y="18.5">Watch</text>
<rect class="pb" x="0.5" y="27" width="19" height="25"/><rect class="pb" x="269.9" y="27" width="19" height="25"/>
<text class="pa" x="6" y="43">&gt;</text><text class="pa" x="276" y="43">&gt;</text>
<rect class="wc" x="6" y="59" width="277.4" height="270"/>
<svg x="6" y="59" width="262" height="270" viewBox="6 59 262 270">
<use href="#sh-d2a"/>
<text class="m" x="22" y="76">List</text>
<text class="m" y="90.75"><tspan class="i" x="44">0</tspan><tspan x="54">List</tspan></text>
<text class="m" y="105.5"><tspan class="i" x="61">0</tspan><tspan x="71">List</tspan></text>
<text class="m" y="164.5"><tspan class="i" x="61">1</tspan><tspan x="71">List</tspan></text>
<text class="m" y="194"><tspan class="i" x="44">1</tspan><tspan x="54">List</tspan></text>
<text class="m" y="208.75"><tspan class="i" x="61">0</tspan><tspan x="71">List</tspan></text>
<text class="it"><tspan x="82.5" y="120.25">0</tspan><tspan x="82.5" y="135">1</tspan><tspan x="82.5" y="149.75">2</tspan><tspan x="82.5" y="179.25">0</tspan><tspan x="82.5" y="223.5">0</tspan><tspan x="82.5" y="238.25">1</tspan><tspan x="82.5" y="253">2</tspan><tspan x="82.5" y="267.75">3</tspan><tspan x="82.5" y="282.5">4</tspan><tspan x="82.5" y="297.25">5</tspan><tspan x="82.5" y="312">6</tspan><tspan x="82.5" y="326.75">7</tspan></text>
<text class="m"><tspan x="96.5" y="120.25">ExternalDefinition: COBie.</tspan><tspan x="96.5" y="135">ExternalDefinition: COBie.</tspan><tspan x="96.5" y="149.75">ExternalDefinition: COBie.</tspan><tspan x="96.5" y="179.25">ExternalDefinition: COBie</tspan><tspan x="96.5" y="223.5">ExternalDefinition: COBie.</tspan><tspan x="96.5" y="238.25">ExternalDefinition: COBie.</tspan><tspan x="96.5" y="253">ExternalDefinition: COBie.</tspan><tspan x="96.5" y="267.75">ExternalDefinition: COBie.</tspan><tspan x="96.5" y="282.5">ExternalDefinition: COBie.</tspan><tspan x="96.5" y="297.25">ExternalDefinition: COBie.</tspan><tspan x="96.5" y="312">ExternalDefinition: COBie.</tspan><tspan x="96.5" y="326.75">ExternalDefinition: COBie.</tspan></text>
</svg>
<rect class="sb" x="273.5" y="60" width="5" height="52" rx="2.5"/>
<rect class="ft" x="6" y="330" width="277.4" height="27"/>
<text class="lv" x="15" y="347"><tspan class="a">@</tspan>L4 <tspan class="a">@</tspan>L3 <tspan class="a">@</tspan>L2 <tspan class="a">@</tspan>L1</text>
<text class="cn" x="279" y="349">{<tspan class="r">79</tspan>}</text>
</g>

<g id="n-watch-bg-guid" transform="translate(1069.7,999)">
<rect class="nb" width="289.3" height="362"/><rect class="nh" width="289.3" height="27"/>
<text class="ht" x="144.6" y="18.5">Watch</text>
<rect class="pb" x="0.5" y="27" width="19" height="25"/><rect class="pb" x="269.8" y="27" width="19" height="25"/>
<text class="pa" x="6" y="43">&gt;</text><text class="pa" x="276" y="43">&gt;</text>
<rect class="wc" x="6" y="59" width="277.3" height="270"/>
<svg x="6" y="59" width="261" height="270" viewBox="6 59 261 270">
<use href="#sh-d2a"/>
<text class="m" x="22" y="76">List</text>
<text class="m" y="90.75"><tspan class="i" x="44">0</tspan><tspan x="54">List</tspan></text>
<text class="m" y="105.5"><tspan class="i" x="61">0</tspan><tspan x="71">List</tspan></text>
<text class="m" y="164.5"><tspan class="i" x="61">1</tspan><tspan x="71">List</tspan></text>
<text class="m" y="194"><tspan class="i" x="44">1</tspan><tspan x="54">List</tspan></text>
<text class="m" y="208.75"><tspan class="i" x="61">0</tspan><tspan x="71">List</tspan></text>
<text class="it"><tspan x="82.5" y="120.25">0</tspan><tspan x="82.5" y="135">1</tspan><tspan x="82.5" y="149.75">2</tspan><tspan x="82.5" y="179.25">0</tspan><tspan x="82.5" y="223.5">0</tspan><tspan x="82.5" y="238.25">1</tspan><tspan x="82.5" y="253">2</tspan><tspan x="82.5" y="267.75">3</tspan><tspan x="82.5" y="282.5">4</tspan><tspan x="82.5" y="297.25">5</tspan><tspan x="82.5" y="312">6</tspan><tspan x="82.5" y="326.75">7</tspan></text>
<text class="m"><tspan x="96.5" y="120.25">fc95531f-3d82-40c6-b03f-c6</tspan><tspan x="96.5" y="135">4b888e29-dfb5-4b06-a270-9d</tspan><tspan x="96.5" y="149.75">bc1ccde3-5d86-42eb-ae1f-83</tspan><tspan x="96.5" y="179.25">a4a71d65-98ff-466f-9c70-d8</tspan><tspan x="96.5" y="223.5">db949116-a361-4876-be1d-fe</tspan><tspan x="96.5" y="238.25">fea46332-2c3d-474b-9016-b1</tspan><tspan x="96.5" y="253">d047f844-9187-4682-86ae-7d</tspan><tspan x="96.5" y="267.75">50740261-fc5c-42cb-b5cf-22</tspan><tspan x="96.5" y="282.5">062ea58a-811b-46d0-b349-d7</tspan><tspan x="96.5" y="297.25">bbd6ef8a-38ad-447f-87ed-78</tspan><tspan x="96.5" y="312">929089af-bc2a-48a4-87f1-2c</tspan><tspan x="96.5" y="326.75">337a60e5-9cd3-4c14-9c88-b7</tspan></text>
</svg>
<rect class="sb" x="273.5" y="60" width="5" height="52" rx="2.5"/>
<rect class="ft" x="6" y="330" width="277.3" height="27"/>
<text class="lv" x="15" y="347"><tspan class="a">@</tspan>L4 <tspan class="a">@</tspan>L3 <tspan class="a">@</tspan>L2 <tspan class="a">@</tspan>L1</text>
<text class="cn" x="279" y="349">{<tspan class="r">79</tspan>}</text>
</g>

<g id="n-groupbytypeandgroupname" transform="translate(1834,783)">
<rect class="nb" width="311" height="182"/><rect class="nh" width="311" height="27"/>
<text class="ht" x="155.5" y="18.5">SharedParameter.GroupByTypeAndGroupName</text>
<rect class="pb" x="0.5" y="27" width="84.5" height="25"/>
<text class="pl" x="6" y="44">file</text>
<path class="cv" d="M77,35l4,4.5l-4,4.5"/>
<path class="pb" d="M198,27h112.5v25h-112.5zM198,53h112.5v25h-112.5zM198,79h112.5v25h-112.5zM198,105h112.5v25h-112.5zM198,131h112.5v25h-112.5z"/>
<text class="pl" x="204.5" y="44.5">ParameterType</text>
<text class="pl" x="204.5" y="70.5">GroupName</text>
<text class="pl" x="204.5" y="96.5">ParameterName</text>
<text class="pl" x="204.5" y="122.5">Definition</text>
<text class="pl" x="204.5" y="148.5">Guid</text>
<text class="au" x="307" y="173">AUTO</text>
</g>

<g id="n-watch-bt-parametertype" transform="translate(1460,999)">
<rect class="nb" width="132" height="193"/><rect class="nh" width="132" height="27"/>
<text class="ht" x="66" y="18.5">Watch</text>
<rect class="pb" x="0.5" y="27" width="19" height="25"/><rect class="pb" x="112.5" y="27" width="19" height="25"/>
<text class="pa" x="6" y="43">&gt;</text><text class="pa" x="119" y="43">&gt;</text>
<rect class="wc" x="6" y="59" width="120" height="101"/>
<svg x="6" y="59" width="120" height="101" viewBox="6 59 120 101">
<use href="#sh-flat5"/>
<text class="m" x="22" y="76">List</text>
<text class="it"><tspan x="49" y="90.75">0</tspan><tspan x="49" y="105.5">1</tspan><tspan x="49" y="120.25">2</tspan><tspan x="49" y="135">3</tspan><tspan x="49" y="149.75">4</tspan></text>
<text class="m"><tspan x="64" y="90.75">Text</tspan><tspan x="64" y="105.5">YesNo</tspan><tspan x="64" y="120.25">Length</tspan><tspan x="64" y="135">Area</tspan><tspan x="64" y="149.75">Currency</tspan></text>
</svg>
<rect class="ft" x="6" y="161" width="120" height="27"/>
<text class="lv" x="15" y="178"><tspan class="a">@</tspan>L2 <tspan class="a">@</tspan>L1</text>
<text class="cn" x="122" y="180">{<tspan class="r">5</tspan>}</text>
</g>

<g id="n-watch-bt-groupname" transform="translate(1627,999)">
<rect class="nb" width="172" height="362"/><rect class="nh" width="172" height="27"/>
<text class="ht" x="86" y="18.5">Watch</text>
<rect class="pb" x="0.5" y="27" width="19" height="25"/><rect class="pb" x="152.5" y="27" width="19" height="25"/>
<text class="pa" x="6" y="43">&gt;</text><text class="pa" x="159" y="43">&gt;</text>
<rect class="wc" x="6" y="59" width="160" height="270"/>
<svg x="6" y="59" width="145" height="270" viewBox="6 59 145 270">
<path class="tl" d="M22.5,80V330M38,92.75V195M38,210.75V239.25M38,255V313M38,328.75V330"/>
<circle class="dt" cx="38" cy="195" r="2"/><circle class="dt" cx="38" cy="239.25" r="2"/><circle class="dt" cx="38" cy="313" r="2"/>
<path class="ar" d="M34.5,85.75h7l-3.5,5zM34.5,203.75h7l-3.5,5zM34.5,248h7l-3.5,5zM34.5,321.75h7l-3.5,5z"/>
<path class="ix" d="M55.5,95.5h20v12h-20zM55.5,110.25h20v12h-20zM55.5,125h20v12h-20zM55.5,139.75h20v12h-20zM55.5,154.5h20v12h-20zM55.5,169.25h20v12h-20zM55.5,184h20v12h-20zM55.5,213.5h20v12h-20zM55.5,228.25h20v12h-20zM55.5,257.75h20v12h-20zM55.5,272.5h20v12h-20zM55.5,287.25h20v12h-20zM55.5,302h20v12h-20z"/>
<text class="m" x="22" y="76">List</text>
<text class="m" y="90.75"><tspan class="i" x="44">0</tspan><tspan x="54">List</tspan></text>
<text class="m" y="208.75"><tspan class="i" x="44">1</tspan><tspan x="54">List</tspan></text>
<text class="m" y="253"><tspan class="i" x="44">2</tspan><tspan x="54">List</tspan></text>
<text class="m" y="326.75"><tspan class="i" x="44">3</tspan><tspan x="54">List</tspan></text>
<text class="it"><tspan x="65.5" y="105.5">0</tspan><tspan x="65.5" y="120.25">1</tspan><tspan x="65.5" y="135">2</tspan><tspan x="65.5" y="149.75">3</tspan><tspan x="65.5" y="164.5">4</tspan><tspan x="65.5" y="179.25">5</tspan><tspan x="65.5" y="194">6</tspan><tspan x="65.5" y="223.5">0</tspan><tspan x="65.5" y="238.25">1</tspan><tspan x="65.5" y="267.75">0</tspan><tspan x="65.5" y="282.5">1</tspan><tspan x="65.5" y="297.25">2</tspan><tspan x="65.5" y="312">3</tspan></text>
<text class="m"><tspan x="79.5" y="105.5">All</tspan><tspan x="79.5" y="120.25">Component</tspan><tspan x="79.5" y="135">Facility</tspan><tspan x="79.5" y="149.75">Floor</tspan><tspan x="79.5" y="164.5">Space</tspan><tspan x="79.5" y="179.25">System</tspan><tspan x="79.5" y="194">Type</tspan><tspan x="79.5" y="223.5">All</tspan><tspan x="79.5" y="238.25">Type</tspan><tspan x="79.5" y="267.75">Component</tspan><tspan x="79.5" y="282.5">Floor</tspan><tspan x="79.5" y="297.25">Space</tspan><tspan x="79.5" y="312">Type</tspan></text>
</svg>
<rect class="sb" x="155.6" y="60" width="5" height="203" rx="2.5"/>
<rect class="ft" x="6" y="330" width="160" height="27"/>
<text class="lv" x="15" y="347"><tspan class="a">@</tspan>L3 <tspan class="a">@</tspan>L2 <tspan class="a">@</tspan>L1</text>
<text class="cn" x="162" y="349">{<tspan class="r">17</tspan>}</text>
</g>

<g id="n-watch-bt-parametername" transform="translate(1834,999)">
<rect class="nb" width="289" height="362"/><rect class="nh" width="289" height="27"/>
<text class="ht" x="144.5" y="18.5">Watch</text>
<rect class="pb" x="0.5" y="27" width="19" height="25"/><rect class="pb" x="269.5" y="27" width="19" height="25"/>
<text class="pa" x="6" y="43">&gt;</text><text class="pa" x="276" y="43">&gt;</text>
<rect class="wc" x="6" y="59" width="277" height="270"/>
<svg x="6" y="59" width="261" height="270" viewBox="6 59 261 270">
<use href="#sh-d2b"/>
<text class="m" x="22" y="76">List</text>
<text class="m" y="90.75"><tspan class="i" x="44">0</tspan><tspan x="54">List</tspan></text>
<text class="m" y="105.5"><tspan class="i" x="61">0</tspan><tspan x="71">List</tspan></text>
<text class="m" y="164.5"><tspan class="i" x="61">1</tspan><tspan x="71">List</tspan></text>
<text class="m" y="312"><tspan class="i" x="61">2</tspan><tspan x="71">List</tspan></text>
<text class="it"><tspan x="82.5" y="120.25">0</tspan><tspan x="82.5" y="135">1</tspan><tspan x="82.5" y="149.75">2</tspan><tspan x="82.5" y="179.25">0</tspan><tspan x="82.5" y="194">1</tspan><tspan x="82.5" y="208.75">2</tspan><tspan x="82.5" y="223.5">3</tspan><tspan x="82.5" y="238.25">4</tspan><tspan x="82.5" y="253">5</tspan><tspan x="82.5" y="267.75">6</tspan><tspan x="82.5" y="282.5">7</tspan><tspan x="82.5" y="297.25">8</tspan><tspan x="82.5" y="326.75">0</tspan></text>
<text class="m"><tspan x="96.5" y="120.25">COBie.CreatedBy</tspan><tspan x="96.5" y="135">COBie.CreatedOn</tspan><tspan x="96.5" y="149.75">COBie.ExternalIdentifier</tspan><tspan x="96.5" y="179.25">COBie.Component.SerialNumb</tspan><tspan x="96.5" y="194">COBie.Component.Space</tspan><tspan x="96.5" y="208.75">COBie.Component.WarrantySt</tspan><tspan x="96.5" y="223.5">COBie.Component.TagNumber</tspan><tspan x="96.5" y="238.25">COBie.Component.Name</tspan><tspan x="96.5" y="253">COBie.Component.BarCode</tspan><tspan x="96.5" y="267.75">COBie.Component.AssetIdent</tspan><tspan x="96.5" y="282.5">COBie.Component.Descriptio</tspan><tspan x="96.5" y="297.25">COBie.Component.Installati</tspan><tspan x="96.5" y="326.75">COBie.Facility.ProjectDesc</tspan></text>
</svg>
<rect class="sb" x="273" y="60" width="5" height="17" rx="2.5"/>
<rect class="ft" x="6" y="330" width="277" height="27"/>
<text class="lv" x="15" y="347"><tspan class="a">@</tspan>L4 <tspan class="a">@</tspan>L3 <tspan class="a">@</tspan>L2 <tspan class="a">@</tspan>L1</text>
<text class="cn" x="279" y="349">{<tspan class="r">79</tspan>}</text>
</g>

<g id="n-watch-bt-definition" transform="translate(2159,999)">
<rect class="nb" width="289.4" height="362"/><rect class="nh" width="289.4" height="27"/>
<text class="ht" x="144.7" y="18.5">Watch</text>
<rect class="pb" x="0.5" y="27" width="19" height="25"/><rect class="pb" x="269.9" y="27" width="19" height="25"/>
<text class="pa" x="6" y="43">&gt;</text><text class="pa" x="276" y="43">&gt;</text>
<rect class="wc" x="6" y="59" width="277.4" height="270"/>
<svg x="6" y="59" width="262" height="270" viewBox="6 59 262 270">
<use href="#sh-d2b"/>
<text class="m" x="22" y="76">List</text>
<text class="m" y="90.75"><tspan class="i" x="44">0</tspan><tspan x="54">List</tspan></text>
<text class="m" y="105.5"><tspan class="i" x="61">0</tspan><tspan x="71">List</tspan></text>
<text class="m" y="164.5"><tspan class="i" x="61">1</tspan><tspan x="71">List</tspan></text>
<text class="m" y="312"><tspan class="i" x="61">2</tspan><tspan x="71">List</tspan></text>
<text class="it"><tspan x="82.5" y="120.25">0</tspan><tspan x="82.5" y="135">1</tspan><tspan x="82.5" y="149.75">2</tspan><tspan x="82.5" y="179.25">0</tspan><tspan x="82.5" y="194">1</tspan><tspan x="82.5" y="208.75">2</tspan><tspan x="82.5" y="223.5">3</tspan><tspan x="82.5" y="238.25">4</tspan><tspan x="82.5" y="253">5</tspan><tspan x="82.5" y="267.75">6</tspan><tspan x="82.5" y="282.5">7</tspan><tspan x="82.5" y="297.25">8</tspan><tspan x="82.5" y="326.75">0</tspan></text>
<text class="m"><tspan x="96.5" y="120.25">ExternalDefinition: COBie.</tspan><tspan x="96.5" y="135">ExternalDefinition: COBie.</tspan><tspan x="96.5" y="149.75">ExternalDefinition: COBie.</tspan><tspan x="96.5" y="179.25">ExternalDefinition: COBie.</tspan><tspan x="96.5" y="194">ExternalDefinition: COBie.</tspan><tspan x="96.5" y="208.75">ExternalDefinition: COBie.</tspan><tspan x="96.5" y="223.5">ExternalDefinition: COBie.</tspan><tspan x="96.5" y="238.25">ExternalDefinition: COBie.</tspan><tspan x="96.5" y="253">ExternalDefinition: COBie.</tspan><tspan x="96.5" y="267.75">ExternalDefinition: COBie.</tspan><tspan x="96.5" y="282.5">ExternalDefinition: COBie.</tspan><tspan x="96.5" y="297.25">ExternalDefinition: COBie.</tspan><tspan x="96.5" y="326.75">ExternalDefinition: COBie.</tspan></text>
</svg>
<rect class="sb" x="273.4" y="60" width="5" height="17" rx="2.5"/>
<rect class="ft" x="6" y="330" width="277.4" height="27"/>
<text class="lv" x="15" y="347"><tspan class="a">@</tspan>L4 <tspan class="a">@</tspan>L3 <tspan class="a">@</tspan>L2 <tspan class="a">@</tspan>L1</text>
<text class="cn" x="279" y="349">{<tspan class="r">79</tspan>}</text>
</g>

<g id="n-watch-bt-guid" transform="translate(2485.4,999)">
<rect class="nb" width="289.2" height="362"/><rect class="nh" width="289.2" height="27"/>
<text class="ht" x="144.6" y="18.5">Watch</text>
<rect class="pb" x="0.5" y="27" width="19" height="25"/><rect class="pb" x="269.7" y="27" width="19" height="25"/>
<text class="pa" x="6" y="43">&gt;</text><text class="pa" x="276" y="43">&gt;</text>
<rect class="wc" x="6" y="59" width="277.2" height="270"/>
<svg x="6" y="59" width="261" height="270" viewBox="6 59 261 270">
<use href="#sh-d2b"/>
<text class="m" x="22" y="76">List</text>
<text class="m" y="90.75"><tspan class="i" x="44">0</tspan><tspan x="54">List</tspan></text>
<text class="m" y="105.5"><tspan class="i" x="61">0</tspan><tspan x="71">List</tspan></text>
<text class="m" y="164.5"><tspan class="i" x="61">1</tspan><tspan x="71">List</tspan></text>
<text class="m" y="312"><tspan class="i" x="61">2</tspan><tspan x="71">List</tspan></text>
<text class="it"><tspan x="82.5" y="120.25">0</tspan><tspan x="82.5" y="135">1</tspan><tspan x="82.5" y="149.75">2</tspan><tspan x="82.5" y="179.25">0</tspan><tspan x="82.5" y="194">1</tspan><tspan x="82.5" y="208.75">2</tspan><tspan x="82.5" y="223.5">3</tspan><tspan x="82.5" y="238.25">4</tspan><tspan x="82.5" y="253">5</tspan><tspan x="82.5" y="267.75">6</tspan><tspan x="82.5" y="282.5">7</tspan><tspan x="82.5" y="297.25">8</tspan><tspan x="82.5" y="326.75">0</tspan></text>
<text class="m"><tspan x="96.5" y="120.25">fc95531f-3d82-40c6-b03f-c6</tspan><tspan x="96.5" y="135">4b888e29-dfb5-4b06-a270-9d</tspan><tspan x="96.5" y="149.75">bc1ccde3-5d86-42eb-ae1f-83</tspan><tspan x="96.5" y="179.25">db949116-a361-4876-be1d-fe</tspan><tspan x="96.5" y="194">fea46332-2c3d-474b-9016-b1</tspan><tspan x="96.5" y="208.75">d047f844-9187-4682-86ae-7d</tspan><tspan x="96.5" y="223.5">50740261-fc5c-42cb-b5cf-22</tspan><tspan x="96.5" y="238.25">062ea58a-811b-46d0-b349-d7</tspan><tspan x="96.5" y="253">bbd6ef8a-38ad-447f-87ed-78</tspan><tspan x="96.5" y="267.75">929089af-bc2a-48a4-87f1-2c</tspan><tspan x="96.5" y="282.5">337a60e5-9cd3-4c14-9c88-b7</tspan><tspan x="96.5" y="297.25">633107f9-20e6-498a-ad57-f0</tspan><tspan x="96.5" y="326.75">3040830c-fc22-4d95-9042-93</tspan></text>
</svg>
<rect class="sb" x="273.2" y="60" width="5" height="17" rx="2.5"/>
<rect class="ft" x="6" y="330" width="277.2" height="27"/>
<text class="lv" x="15" y="347"><tspan class="a">@</tspan>L4 <tspan class="a">@</tspan>L3 <tspan class="a">@</tspan>L2 <tspan class="a">@</tspan>L1</text>
<text class="cn" x="279" y="349">{<tspan class="r">79</tspan>}</text>
</g>

</g>
</svg>
